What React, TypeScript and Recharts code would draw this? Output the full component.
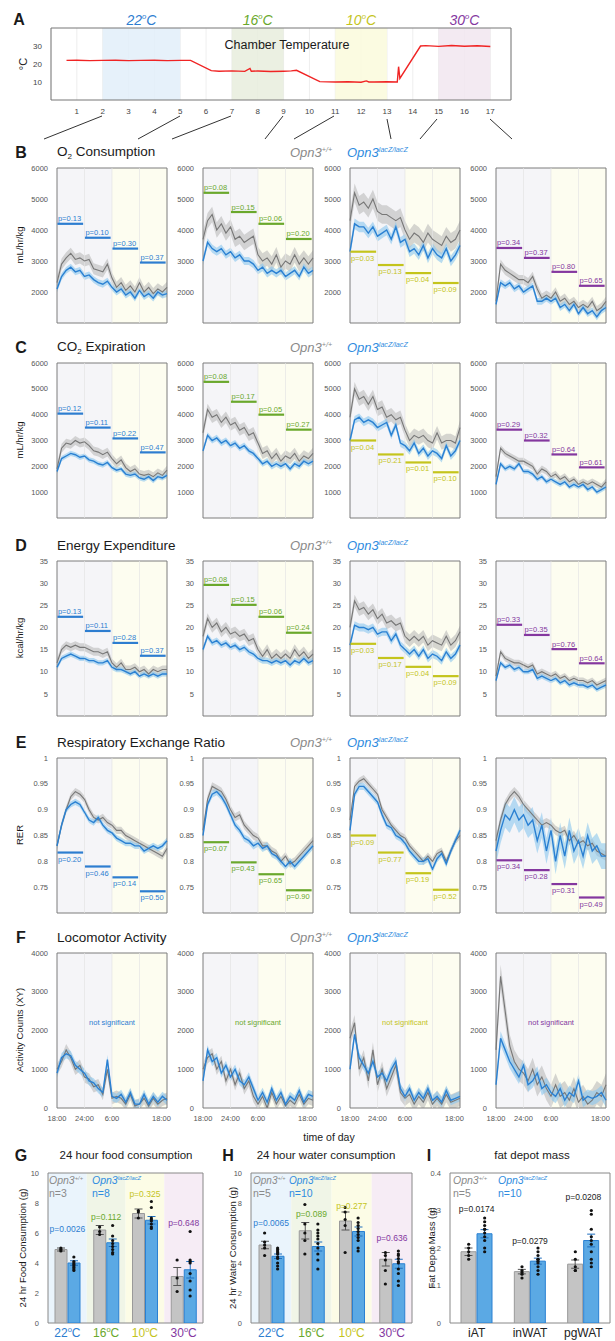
import React from 'react';
import {
  ComposedChart, LineChart, Line, Area, Bar, Scatter, ErrorBar, XAxis, YAxis,
  CartesianGrid, ReferenceArea, ReferenceLine, ReferenceDot,
} from 'recharts';

if (typeof document !== 'undefined') document.body.style.margin = '0';

// ---------- panel A: chamber temperature ----------
const dayTicks = [1, 2, 3, 4, 5, 6, 7, 8, 9, 10, 11, 12, 13, 14, 15, 16, 17];
const tempDays = [0.6, 1, 1.5, 2, 2.5, 3, 3.5, 4, 4.5, 5, 5.4, 6.2, 6.5, 7, 7.5, 7.7, 7.75, 8, 8.5, 9, 9.3, 9.5, 10.4, 11, 11.5, 12, 12.2, 12.3, 12.5, 13, 13.4, 13.45, 13.5, 14.3, 14.5, 15, 15.5, 16, 16.5, 17];
const tempValues = [22, 22.1, 21.9, 22, 22.1, 21.9, 22, 22.1, 21.9, 22, 22, 16.3, 16, 16.2, 15.9, 17.5, 16, 16.1, 15.8, 16, 16.2, 16.5, 10.2, 10, 10.1, 9.9, 10.6, 10, 10, 10.1, 10, 18.5, 12, 30, 30.2, 29.8, 30.3, 29.9, 30.1, 29.7];
const tempBlocks = [[2, 5], [7, 9], [11, 13], [15, 17]];
const tempBlockFill = ['#e2eff9', '#e7eddd', '#fafadc', '#f1e6f0'];
const tempNames = ['22', '16', '10', '30'];
const tempColors = ['#2d7dd0', '#6aa82c', '#c4c41c', '#84379f'];

// ---------- time series (hour after 18:00) ----------
const HOURS = [0, 1, 2, 3, 4, 5, 6, 7, 8, 9, 10, 11, 12, 13, 14, 15, 16, 17, 18, 19, 20, 21, 22, 23, 24];
const QUARTERS = [0, 6, 12, 18, 24];
const TIME_LABELS = ['18:00', '24:00', '6:00', '12:00', '18:00'];

const o2Wt22 = [2300, 2900, 3100, 3250, 3050, 3100, 3000, 3050, 2750, 2700, 2650, 2900, 2450, 2150, 2300, 2050, 2200, 2000, 2300, 2000, 2150, 1950, 2100, 2000, 2150];
const o2Ko22 = [2100, 2500, 2700, 2800, 2650, 2700, 2500, 2550, 2400, 2300, 2250, 2350, 2150, 2000, 2100, 1900, 2000, 1800, 2050, 1850, 1950, 1800, 2000, 1900, 1950];
const o2Wt16 = [3700, 4300, 4500, 4000, 4200, 3900, 4100, 3700, 3800, 3600, 3700, 3800, 3200, 3000, 3100, 2900, 3200, 2800, 3000, 2900, 3200, 2900, 3100, 2900, 3100];
const o2Ko16 = [3000, 3600, 3400, 3300, 3400, 3200, 3300, 3100, 3200, 3000, 3000, 2900, 2700, 2800, 2600, 2700, 2600, 2700, 2500, 2600, 2700, 2500, 2800, 2600, 2700];
const o2Wt10 = [4300, 5200, 4800, 4900, 4700, 5000, 4600, 4500, 4500, 4400, 4300, 4400, 4000, 3700, 3900, 3800, 3600, 3900, 3700, 3600, 3500, 3800, 3600, 3700, 4000];
const o2Ko10 = [3300, 4200, 4100, 4100, 3900, 4100, 3800, 3900, 4000, 3700, 4100, 3600, 3700, 3300, 3400, 3200, 3500, 3100, 3400, 3200, 3100, 3400, 3000, 3200, 3500];
const o2Wt30 = [1700, 2900, 2700, 2600, 2500, 2400, 2400, 2300, 2500, 2100, 1800, 1900, 1800, 2000, 1700, 1800, 1600, 1700, 1500, 1600, 1500, 1700, 1400, 1500, 1700];
const o2Ko30 = [1600, 2300, 2200, 2300, 2100, 2200, 2000, 2100, 2200, 1700, 1700, 1800, 1700, 1800, 1500, 1600, 1400, 1600, 1300, 1500, 1300, 1400, 1200, 1400, 1500];
const o2SemWt = [180, 250, 300, 150];
const o2SemKo = [110, 130, 170, 110];
const o2PText = [['0.13', '0.10', '0.30', '0.37'], ['0.08', '0.15', '0.06', '0.20'], ['0.03', '0.13', '0.04', '0.09'], ['0.34', '0.37', '0.80', '0.65']];
const o2PLevel = [[4200, 3750, 3400, 2950], [5200, 4580, 4200, 3710], [3300, 2870, 2610, 2290], [3420, 3100, 2650, 2200]];

const co2Wt22 = [1900, 2700, 2900, 2850, 3000, 2900, 2950, 2800, 2600, 2550, 2450, 2550, 2300, 2100, 2250, 1950, 1800, 1900, 1700, 1650, 1700, 1600, 1750, 1650, 1850];
const co2Ko22 = [1800, 2300, 2400, 2500, 2450, 2350, 2400, 2250, 2200, 2100, 2050, 2150, 1950, 1850, 1900, 1700, 1650, 1700, 1550, 1500, 1600, 1450, 1600, 1550, 1650];
const co2Wt16 = [3300, 4200, 3900, 4000, 3700, 3900, 3600, 3700, 3400, 3500, 3200, 3300, 2900, 2500, 2600, 2300, 2500, 2200, 2400, 2300, 2500, 2200, 2400, 2300, 2500];
const co2Ko16 = [2600, 3200, 3000, 3100, 2900, 3000, 2800, 2900, 2700, 2800, 2600, 2500, 2300, 2100, 2200, 2000, 2100, 2000, 2100, 1900, 2100, 2000, 2200, 2100, 2200];
const co2Wt10 = [3900, 5000, 4600, 4700, 4400, 4700, 4200, 4300, 3900, 4000, 3800, 3900, 3400, 3000, 3200, 3100, 3200, 3000, 2900, 3300, 2900, 3000, 3000, 2900, 3500];
const co2Ko10 = [3000, 3800, 3900, 3700, 3800, 3700, 3500, 3600, 3700, 3200, 3600, 2900, 2800, 2600, 2900, 2500, 2700, 2400, 2600, 2500, 2300, 2800, 2400, 2600, 3000];
const co2Wt30 = [1600, 2700, 2500, 2400, 2300, 2200, 2200, 2100, 2000, 1700, 1900, 1800, 1600, 1700, 1500, 1600, 1400, 1500, 1300, 1400, 1300, 1400, 1300, 1200, 1400];
const co2Ko30 = [1300, 2100, 1900, 2000, 1900, 2100, 1800, 1800, 1700, 1500, 1600, 1400, 1500, 1400, 1300, 1400, 1200, 1300, 1200, 1300, 1100, 1200, 1000, 1100, 1200];
const co2SemWt = [170, 220, 260, 130];
const co2SemKo = [100, 120, 150, 100];
const co2PText = [['0.12', '0.11', '0.22', '0.47'], ['0.08', '0.17', '0.05', '0.27'], ['0.04', '0.21', '0.01', '0.10'], ['0.29', '0.32', '0.64', '0.61']];
const co2PLevel = [[4040, 3500, 3080, 2540], [5270, 4500, 4000, 3420], [3000, 2460, 2150, 1770], [3420, 3000, 2460, 1960]];

const eeWt22 = [12, 15, 16, 15.5, 16, 15.5, 15.5, 15, 14.5, 14.5, 14, 14.5, 12, 11, 12, 10.5, 10.5, 11, 10, 10.5, 9.5, 10.5, 10, 10.5, 10.5];
const eeKo22 = [11, 13, 13.5, 14, 13.5, 13, 13, 12.5, 12.5, 12, 12, 12.5, 11, 10.5, 10.5, 10, 9.5, 10, 9, 9.5, 9, 9.5, 9, 9.5, 9.5];
const eeWt16 = [18, 22, 20, 21, 19, 20, 18.5, 19, 18, 18.5, 17, 17.5, 15, 13.5, 15, 13, 14, 13, 14, 13, 15, 13.5, 14.5, 13, 14];
const eeKo16 = [15, 18, 16.5, 17, 16, 16.5, 15.5, 16, 15, 15.5, 14.5, 14, 13, 12.5, 12.5, 12, 12.5, 12, 12.5, 11.5, 12.5, 12, 13, 12, 12.5];
const eeWt10 = [20, 26, 24, 24.5, 23, 24, 22, 23, 21, 21.5, 20.5, 21, 18, 17, 18, 17, 18, 16, 17, 16.5, 16, 18, 16, 17, 19];
const eeKo10 = [16, 20.5, 20, 20, 19.5, 20, 18.5, 19, 19, 17, 18.5, 16, 15, 14, 15, 13.5, 15, 13, 14, 13.5, 12.5, 14.5, 13, 14, 16];
const eeWt30 = [9, 14.5, 13, 12.5, 12, 12, 11.5, 11, 11.5, 9.5, 10, 9.5, 9, 9.5, 8.5, 9, 8, 8.5, 8, 8, 7.5, 8, 7, 7.5, 8];
const eeKo30 = [8, 12, 11, 11.5, 10.5, 11, 10, 10, 10.5, 8.5, 9, 8.5, 8, 8.5, 7.5, 8, 7, 7.5, 7, 7, 6.5, 7, 6, 6.5, 7];
const eeSemWt = [0.9, 1.2, 1.4, 0.7];
const eeSemKo = [0.6, 0.7, 0.9, 0.6];
const eePText = [['0.13', '0.11', '0.28', '0.37'], ['0.08', '0.15', '0.06', '0.24'], ['0.03', '0.17', '0.04', '0.09'], ['0.33', '0.35', '0.76', '0.64']];
const eePLevel = [[22.4, 19.2, 16.5, 13.6], [29.6, 25.1, 22.4, 18.8], [16.3, 13.1, 11.1, 9.0], [20.6, 18.3, 15.1, 11.9]];

const rerWt22 = [0.83, 0.87, 0.9, 0.925, 0.935, 0.93, 0.92, 0.9, 0.885, 0.88, 0.885, 0.875, 0.87, 0.86, 0.86, 0.85, 0.845, 0.84, 0.835, 0.83, 0.825, 0.82, 0.815, 0.81, 0.825];
const rerKo22 = [0.83, 0.87, 0.9, 0.91, 0.915, 0.91, 0.895, 0.88, 0.875, 0.885, 0.87, 0.86, 0.855, 0.845, 0.84, 0.835, 0.835, 0.83, 0.83, 0.82, 0.825, 0.83, 0.825, 0.83, 0.84];
const rerWt16 = [0.86, 0.92, 0.945, 0.94, 0.935, 0.92, 0.9, 0.885, 0.89, 0.87, 0.86, 0.85, 0.845, 0.83, 0.83, 0.82, 0.815, 0.8, 0.81, 0.795, 0.8, 0.81, 0.82, 0.83, 0.84];
const rerKo16 = [0.85, 0.91, 0.93, 0.935, 0.925, 0.91, 0.89, 0.87, 0.86, 0.845, 0.84, 0.83, 0.835, 0.825, 0.83, 0.815, 0.81, 0.8, 0.79, 0.8, 0.79, 0.8, 0.81, 0.82, 0.83];
const rerWt10 = [0.88, 0.945, 0.955, 0.96, 0.95, 0.94, 0.93, 0.9, 0.885, 0.87, 0.86, 0.85, 0.845, 0.83, 0.82, 0.81, 0.8, 0.81, 0.8, 0.815, 0.82, 0.8, 0.82, 0.84, 0.85];
const rerKo10 = [0.86, 0.93, 0.945, 0.945, 0.935, 0.925, 0.915, 0.89, 0.87, 0.865, 0.85, 0.845, 0.835, 0.82, 0.81, 0.8, 0.8, 0.805, 0.785, 0.805, 0.815, 0.795, 0.82, 0.84, 0.86];
const rerWt30 = [0.84, 0.88, 0.91, 0.925, 0.935, 0.925, 0.91, 0.9, 0.89, 0.88, 0.87, 0.875, 0.87, 0.86, 0.855, 0.86, 0.84, 0.85, 0.835, 0.84, 0.83, 0.835, 0.82, 0.815, 0.81];
const rerKo30 = [0.82, 0.86, 0.89, 0.88, 0.9, 0.88, 0.89, 0.87, 0.88, 0.84, 0.87, 0.82, 0.86, 0.8, 0.85, 0.81, 0.86, 0.82, 0.84, 0.81, 0.85, 0.82, 0.83, 0.81, 0.81];
const rerSemWt = [0.007, 0.008, 0.007, 0.009];
const rerSemKo = [0.006, 0.007, 0.007, 0.025];
const rerPText = [['0.20', '0.46', '0.14', '0.50'], ['0.07', '0.43', '0.65', '0.90'], ['0.09', '0.77', '0.19', '0.52'], ['0.34', '0.28', '0.31', '0.49']];
const rerPLevel = [[0.817, 0.79, 0.769, 0.742], [0.837, 0.798, 0.775, 0.744], [0.85, 0.817, 0.777, 0.745], [0.802, 0.783, 0.756, 0.73]];

const actWt22 = [1000, 1200, 1500, 1300, 1000, 1100, 800, 750, 550, 600, 350, 1000, 250, 300, 250, 100, 350, 50, 100, 250, 50, 250, 100, 200, 250];
const actKo22 = [900, 1300, 1400, 1350, 1100, 1000, 900, 700, 650, 500, 400, 1250, 300, 250, 350, 150, 400, 100, 100, 350, 100, 300, 150, 300, 200];
const actWt16 = [1000, 1300, 1400, 1000, 1200, 700, 1000, 600, 900, 500, 700, 300, 100, 300, 0, 400, 100, 300, 50, 200, 100, 350, 100, 250, 200];
const actKo16 = [700, 1500, 1200, 1300, 900, 1100, 800, 1000, 700, 600, 800, 500, 200, 400, 150, 500, 200, 400, 100, 300, 200, 450, 150, 350, 300];
const actWt10 = [1800, 2200, 1000, 1300, 700, 1500, 600, 1000, 500, 800, 1100, 400, 250, 350, 100, 300, 150, 400, 100, 250, 100, 350, 150, 200, 250];
const actKo10 = [1000, 1900, 1300, 1100, 900, 1200, 800, 900, 700, 1000, 1200, 500, 300, 500, 200, 400, 250, 500, 200, 300, 150, 450, 200, 250, 300];
const actWt30 = [1500, 3400, 2500, 1600, 1200, 1000, 900, 700, 1000, 600, 800, 500, 300, 600, 300, 400, 200, 500, 150, 300, 100, 200, 400, 300, 600];
const actKo30 = [600, 1800, 1500, 1200, 1000, 800, 1100, 600, 700, 900, 500, 600, 400, 300, 500, 200, 400, 300, 700, 200, 300, 250, 300, 400, 200];
const actSemWt = [150, 150, 200, 300];
const actSemKo = [120, 120, 130, 180];
const actNoteLevel = 2200;

// ---------- G / H / I ----------
const foodWt = [4.9, 6.2, 7.3, 3.1];
const foodWtSem = [0.1, 0.3, 0.3, 0.6];
const foodKo = [4.0, 5.35, 6.85, 3.55];
const foodKoSem = [0.15, 0.25, 0.25, 0.55];
const foodWtDots = [[5.0, 4.9, 4.8], [6.4, 6.1, 5.9], [7.5, 7.4, 7.0], [4.2, 3.0, 2.1]];
const foodKoDots = [[4.4, 4.1, 4.0, 3.9, 3.8, 3.7, 3.6, 3.5], [6.5, 5.8, 5.5, 5.3, 5.1, 4.9, 4.7, 4.6], [8.1, 7.7, 7.0, 6.9, 6.8, 6.6, 6.4, 6.3], [6.1, 4.2, 4.1, 4.0, 3.3, 2.8, 2.2, 1.8]];
const foodPText = ['p=0.0026', 'p=0.112', 'p=0.325', 'p=0.648'];
const foodPLevel = [6.3, 7.1, 8.6, 6.7];

const waterWt = [5.2, 6.15, 6.8, 4.25];
const waterWtSem = [0.25, 0.55, 0.6, 0.45];
const waterKo = [4.45, 5.1, 6.1, 3.95];
const waterKoSem = [0.15, 0.3, 0.3, 0.3];
const waterWtDots = [[6.0, 5.4, 5.2, 5.0, 4.5], [7.9, 6.6, 6.0, 5.5, 4.6], [7.7, 7.4, 6.9, 6.5, 4.7], [4.7, 4.5, 4.2, 3.5, 2.6]];
const waterKoDots = [[5.0, 4.9, 4.8, 4.7, 4.6, 4.4, 4.3, 4.0, 3.8, 3.6], [6.6, 6.2, 6.0, 5.8, 5.6, 5.3, 5.0, 4.6, 4.2, 3.6], [7.0, 6.7, 6.5, 6.3, 6.1, 5.9, 5.7, 5.5, 5.0, 4.8], [4.8, 4.6, 4.5, 4.3, 4.1, 4.0, 3.6, 3.3, 2.8, 2.5]];
const waterPText = ['p=0.0065', 'p=0.089', 'p=0.277', 'p=0.636'];
const waterPLevel = [6.7, 7.3, 7.8, 5.7];

const fatCats = ['iAT', 'inWAT', 'pgWAT'];
const fatWt = [0.19, 0.137, 0.157];
const fatWtSem = [0.01, 0.006, 0.011];
const fatKo = [0.238, 0.165, 0.22];
const fatKoSem = [0.011, 0.008, 0.017];
const fatWtDots = [[0.21, 0.2, 0.19, 0.18, 0.17], [0.15, 0.14, 0.135, 0.13, 0.12], [0.19, 0.17, 0.15, 0.14, 0.14]];
const fatKoDots = [[0.28, 0.27, 0.26, 0.25, 0.25, 0.24, 0.23, 0.22, 0.2, 0.19], [0.2, 0.19, 0.18, 0.17, 0.17, 0.165, 0.16, 0.15, 0.14, 0.13], [0.3, 0.29, 0.25, 0.23, 0.22, 0.21, 0.19, 0.17, 0.16, 0.15]];
const fatPText = ['p=0.0174', 'p=0.0279', 'p=0.0208'];
const fatPLevel = [0.304, 0.218, 0.336];

// ---------- layout ----------
const FONT = "'Liberation Sans', Arial, Helvetica, sans-serif";
const COL_X = [57, 203, 350, 496];
const ROW_Y = [168, 363, 561, 758, 953];
const PLOT_W = 110;
const PLOT_H = 155;
const AXIS_W = 32;
const GREY = '#777777';
const BLUE = '#2a80d2';
const NIGHT = '#f5f5f8';
const DAY = '#fdfdf0';

const ROWS = [
  { letter: 'B', title: <>O<sub style={{ fontSize: '0.6em' }}>2</sub> Consumption</>, ylabel: 'mL/hr/kg', domain: [1000, 6000], ticks: [1000, 2000, 3000, 4000, 5000, 6000], wt: [o2Wt22, o2Wt16, o2Wt10, o2Wt30], ko: [o2Ko22, o2Ko16, o2Ko10, o2Ko30], semWt: o2SemWt, semKo: o2SemKo, pText: o2PText, pLevel: o2PLevel },
  { letter: 'C', title: <>CO<sub style={{ fontSize: '0.6em' }}>2</sub> Expiration</>, ylabel: 'mL/hr/kg', domain: [0, 6000], ticks: [0, 1000, 2000, 3000, 4000, 5000, 6000], wt: [co2Wt22, co2Wt16, co2Wt10, co2Wt30], ko: [co2Ko22, co2Ko16, co2Ko10, co2Ko30], semWt: co2SemWt, semKo: co2SemKo, pText: co2PText, pLevel: co2PLevel },
  { letter: 'D', title: 'Energy Expenditure', ylabel: 'kcal/hr/kg', domain: [0, 35], ticks: [0, 5, 10, 15, 20, 25, 30, 35], wt: [eeWt22, eeWt16, eeWt10, eeWt30], ko: [eeKo22, eeKo16, eeKo10, eeKo30], semWt: eeSemWt, semKo: eeSemKo, pText: eePText, pLevel: eePLevel },
  { letter: 'E', title: 'Respiratory Exchange Ratio', ylabel: 'RER', domain: [0.7, 1], ticks: [0.7, 0.75, 0.8, 0.85, 0.9, 0.95, 1], wt: [rerWt22, rerWt16, rerWt10, rerWt30], ko: [rerKo22, rerKo16, rerKo10, rerKo30], semWt: rerSemWt, semKo: rerSemKo, pText: rerPText, pLevel: rerPLevel, below: true },
  { letter: 'F', title: 'Locomotor Activity', ylabel: 'Activity Counts (XY)', domain: [0, 4000], ticks: [0, 1000, 2000, 3000, 4000], wt: [actWt22, actWt16, actWt10, actWt30], ko: [actKo22, actKo16, actKo10, actKo30], semWt: actSemWt, semKo: actSemKo, note: true },
];

function Txt({ x, y, size = 12, color = '#1a1a1a', bold = false, italic = false, anchor = 'start', rotate = false, children }: any) {
  const tx = anchor === 'middle' ? '-50%' : anchor === 'end' ? '-100%' : '0';
  return (
    <div style={{
      position: 'absolute', left: x, top: y,
      transform: rotate ? 'translate(-50%, -50%) rotate(-90deg)' : `translate(${tx}, -50%)`,
      fontSize: size, color, fontWeight: bold ? 700 : 400, fontStyle: italic ? 'italic' : 'normal',
      whiteSpace: 'nowrap', lineHeight: 1,
    }}>{children}</div>
  );
}

const Sup = ({ children }: any) => (
  <span style={{ fontSize: '0.55em', position: 'relative', top: '-0.75em' }}>{children}</span>
);

const Genotypes = ({ x1, x2, y, size }: any) => (
  <>
    <Txt x={x1} y={y} size={size} italic color="#8a8a8a">Opn3<Sup>+/+</Sup></Txt>
    <Txt x={x2} y={y} size={size} italic color="#2f8ce0">Opn3<Sup>lacZ/lacZ</Sup></Txt>
  </>
);

const pLabel = (text: string, color: string, below: boolean) => (props: any) => {
  const vb = props.viewBox || {};
  return (
    <text x={(vb.x || 0) + 0.5} y={below ? (vb.y || 0) + 9 : (vb.y || 0) - 2.5} fontSize={7.5} fill={color}>{text}</text>
  );
};

function TimeChart({ x, y, wt, ko, semWt, semKo, domain, ticks, color, pText, pLevel, below, showX, note }: any) {
  const data = HOURS.map((h, i) => ({
    h,
    wt: wt[i],
    ko: ko[i],
    wtBand: [wt[i] - semWt, wt[i] + semWt],
    koBand: [ko[i] - semKo, ko[i] + semKo],
  }));
  const xH = showX ? 14 : 0;
  return (
    <div style={{ position: 'absolute', left: x - AXIS_W, top: y - 4 }}>
      <ComposedChart width={AXIS_W + PLOT_W + 3} height={4 + PLOT_H + xH + 2} data={data}
        margin={{ top: 4, right: 3, bottom: 2, left: 0 }}>
        <XAxis type="number" dataKey="h" domain={[0, 24]} ticks={QUARTERS} height={xH}
          tick={showX ? { fontSize: 7.5, fill: '#555' } : false}
          tickFormatter={(v: number) => TIME_LABELS[QUARTERS.indexOf(v)]}
          tickLine={false} axisLine={false} tickMargin={2} />
        <YAxis type="number" domain={domain} ticks={ticks} width={AXIS_W} allowDataOverflow
          tick={{ fontSize: 7.5, fill: '#555' }} tickLine={false} axisLine={false} tickMargin={3} />
        <ReferenceArea x1={0} x2={12} y1={domain[0]} y2={domain[1]} fill={NIGHT} fillOpacity={1} stroke="none" />
        <ReferenceArea x1={12} x2={24} y1={domain[0]} y2={domain[1]} fill={DAY} fillOpacity={1} stroke="none" />
        {[6, 12, 18].map((g) => (
          <ReferenceLine key={'g' + g} x={g} stroke="#e4e4e4" strokeWidth={0.7} />
        ))}
        <Area type="linear" dataKey="wtBand" stroke="none" fill="#b5b5b5" fillOpacity={0.55} isAnimationActive={false} dot={false} activeDot={false} />
        <Area type="linear" dataKey="koBand" stroke="none" fill="#8ac6ee" fillOpacity={0.6} isAnimationActive={false} dot={false} activeDot={false} />
        <Line type="linear" dataKey="wt" stroke={GREY} strokeWidth={1.1} dot={false} isAnimationActive={false} />
        <Line type="linear" dataKey="ko" stroke={BLUE} strokeWidth={1.4} dot={false} isAnimationActive={false} />
        {pLevel && pLevel.map((lv: number, q: number) => (
          <ReferenceLine key={q} segment={[{ x: q * 6 + 0.1, y: lv }, { x: q * 6 + 5.7, y: lv }]}
            stroke={color} strokeWidth={2.2} label={pLabel('p=' + pText[q], color, below)} />
        ))}
        {note && (
          <ReferenceDot x={12} y={actNoteLevel} r={0} stroke="none"
            label={{ value: 'not significant', fill: color, fontSize: 7.5, position: 'center' }} />
        )}
        <ReferenceArea x1={0} x2={24} y1={domain[0]} y2={domain[1]} fill="none" stroke="#7d7d7d" strokeWidth={1} />
      </ComposedChart>
    </div>
  );
}

function BarPanel({ x, y, plotW, axisW, cats, catColors, superO, wt, wtSem, ko, koSem, wtDots, koDots, pText, pLevel, pColors, domain, ticks, bg, barSize }: any) {
  const n = cats.length;
  const data = cats.map((c: string, i: number) => ({ cat: c, wt: wt[i], wtErr: wtSem[i], ko: ko[i], koErr: koSem[i] }));
  const wtPts = wtDots.flatMap((vals: number[], i: number) => vals.map((v) => ({ x: i + 0.5, y: v })));
  const koPts = koDots.flatMap((vals: number[], i: number) => vals.map((v) => ({ x: i + 0.5, y: v })));
  const off = (barSize + 1) / 2;
  const renderTick = (p: any) => {
    const i = cats.indexOf(p.payload.value);
    return (
      <text x={p.x} y={p.y + 6} textAnchor="middle" fontSize={12} fill={catColors[i]}>
        {p.payload.value}
        {superO && <tspan dy={-5} fontSize={7.5}>o</tspan>}
        {superO && <tspan dy={5}>C</tspan>}
      </text>
    );
  };
  return (
    <div style={{ position: 'absolute', left: x - axisW, top: y - 4 }}>
      <ComposedChart width={axisW + plotW + 3} height={4 + 150 + 16} data={data}
        margin={{ top: 4, right: 3, bottom: 0, left: 0 }} barGap={1}>
        <XAxis xAxisId="cat" dataKey="cat" type="category" height={16} interval={0}
          tickLine={false} axisLine={false} tick={renderTick} />
        <XAxis xAxisId="num" dataKey="x" type="number" domain={[0, n]} hide allowDataOverflow />
        <YAxis type="number" domain={domain} ticks={ticks} width={axisW} allowDataOverflow
          tick={{ fontSize: 7.5, fill: '#555' }} tickLine={false} axisLine={false} tickMargin={3} />
        {bg && bg.map((c: string, i: number) => (
          <ReferenceArea key={i} xAxisId="num" x1={i} x2={i + 1} y1={domain[0]} y2={domain[1]} fill={c} fillOpacity={1} stroke="none" />
        ))}
        <Bar xAxisId="cat" dataKey="wt" fill="#c4c4c4" stroke="#9a9a9a" barSize={barSize} isAnimationActive={false}>
          <ErrorBar dataKey="wtErr" width={4} stroke="#555" strokeWidth={1} direction="y" isAnimationActive={false} />
        </Bar>
        <Bar xAxisId="cat" dataKey="ko" fill="#5ba9e4" stroke="#2a80d2" barSize={barSize} isAnimationActive={false}>
          <ErrorBar dataKey="koErr" width={4} stroke="#1f6fbf" strokeWidth={1} direction="y" isAnimationActive={false} />
        </Bar>
        <Scatter xAxisId="num" data={wtPts} dataKey="y" isAnimationActive={false}
          shape={(p: any) => <circle cx={p.cx - off} cy={p.cy} r={1.6} fill="#111" />} />
        <Scatter xAxisId="num" data={koPts} dataKey="y" isAnimationActive={false}
          shape={(p: any) => <circle cx={p.cx + off} cy={p.cy} r={1.6} fill="#111" />} />
        {pText.map((t: string, i: number) => (
          <ReferenceDot key={i} xAxisId="num" x={i + 0.5} y={pLevel[i]} r={0} stroke="none"
            label={{ value: t, fill: pColors[i], fontSize: 8.5, position: 'center' }} />
        ))}
        <ReferenceArea xAxisId="num" x1={0} x2={n} y1={domain[0]} y2={domain[1]} fill="none" stroke="#888" strokeWidth={1} />
      </ComposedChart>
    </div>
  );
}

const connectors = [
  [102, 116, 44, 139], [180, 116, 138, 139], [231, 116, 172, 139], [283, 116, 265, 139],
  [334, 116, 294, 139], [387, 119, 391, 139], [437, 119, 420, 139], [490, 119, 512, 139],
];

export default function App() {
  const tempData = tempDays.map((d, i) => ({ d, c: tempValues[i] }));
  const tempBg = ['#eaf4fc', '#f0f5e7', '#fcfce6', '#f6ecf5'];
  return (
    <div style={{ position: 'relative', width: 615, height: 1341, background: '#fff', overflow: 'hidden', fontFamily: FONT }}>
      <style>{'.recharts-surface{overflow:visible}'}</style>

      {/* panel A */}
      <Txt x={19} y={20} size={16} bold anchor="middle">A</Txt>
      {tempNames.map((t, i) => (
        <Txt key={t} x={51 + ((tempBlocks[i][0] + tempBlocks[i][1]) / 2) * 25.84} y={20} size={14} italic color={tempColors[i]} anchor="middle">
          {t}<Sup>o</Sup>C
        </Txt>
      ))}
      <Txt x={23} y={64} size={11} rotate>°C</Txt>
      <div style={{ position: 'absolute', left: 51 - 22, top: 28 - 4 }}>
        <LineChart width={22 + 460 + 4} height={4 + 72 + 14} data={tempData} margin={{ top: 4, right: 4, bottom: 0, left: 0 }}>
          <CartesianGrid horizontal={false} stroke="#e3e3e3" strokeWidth={0.6} />
          <XAxis type="number" dataKey="d" domain={[0, 17.8]} ticks={dayTicks} height={14}
            tick={{ fontSize: 8, fill: '#444' }} tickLine={false} axisLine={false} tickMargin={2} />
          <YAxis type="number" domain={[0, 40]} ticks={[10, 20, 30]} width={22}
            tick={{ fontSize: 8, fill: '#444' }} tickLine={false} axisLine={false} tickMargin={3} />
          {tempBlocks.map((b, i) => (
            <ReferenceArea key={i} x1={b[0]} x2={b[1]} y1={0} y2={40} fill={tempBlockFill[i]} fillOpacity={0.85} stroke="none" />
          ))}
          <Line type="linear" dataKey="c" stroke="#f02424" strokeWidth={1.4} dot={false} isAnimationActive={false} />
          <ReferenceArea x1={0} x2={17.8} y1={0} y2={40} fill="none" stroke="#777" strokeWidth={1} />
        </LineChart>
      </div>
      <Txt x={287} y={45} size={12.5} anchor="middle">Chamber Temperature</Txt>
      <svg width={615} height={150} style={{ position: 'absolute', left: 0, top: 0, pointerEvents: 'none' }}>
        {connectors.map((c, i) => (
          <line key={i} x1={c[0]} y1={c[1]} x2={c[2]} y2={c[3]} stroke="#333" strokeWidth={1} />
        ))}
      </svg>

      {/* panels B-F */}
      {ROWS.map((row, r) => (
        <React.Fragment key={row.letter}>
          <Txt x={21} y={ROW_Y[r] - 15} size={16} bold anchor="middle">{row.letter}</Txt>
          <Txt x={57} y={ROW_Y[r] - 15} size={13.5}>{row.title}</Txt>
          <Genotypes x1={290} x2={347} y={ROW_Y[r] - 15} size={13} />
          <Txt x={20} y={ROW_Y[r] + 77} size={9.5} rotate>{row.ylabel}</Txt>
          {COL_X.map((cx, c) => (
            <TimeChart key={c} x={cx} y={ROW_Y[r]} wt={row.wt[c]} ko={row.ko[c]}
              semWt={row.semWt[c]} semKo={row.semKo[c]} domain={row.domain} ticks={row.ticks}
              color={tempColors[c]} pText={row.pText ? row.pText[c] : null} pLevel={row.pLevel ? row.pLevel[c] : null}
              below={row.below || c === 2} showX={!!row.note} note={row.note} />
          ))}
        </React.Fragment>
      ))}
      <Txt x={329} y={1137} size={10.5} anchor="middle">time of day</Txt>

      {/* panel G */}
      <Txt x={21} y={1156} size={16} bold anchor="middle">G</Txt>
      <Txt x={126} y={1156} size={11.5} anchor="middle">24 hour food consumption</Txt>
      <Txt x={23} y={1248} size={9.5} rotate>24 hr Food Consumption (g)</Txt>
      <BarPanel x={48} y={1173} plotW={155} axisW={22} cats={tempNames} catColors={tempColors} superO
        wt={foodWt} wtSem={foodWtSem} ko={foodKo} koSem={foodKoSem} wtDots={foodWtDots} koDots={foodKoDots}
        pText={foodPText} pLevel={foodPLevel} pColors={tempColors} domain={[0, 10]} ticks={[0, 2, 4, 6, 8, 10]}
        bg={tempBg} barSize={12} />
      <Genotypes x1={49} x2={92} y={1180} size={10.5} />
      <Txt x={49} y={1193} size={10.5} color="#8a8a8a">n=3</Txt>
      <Txt x={92} y={1193} size={10.5} color="#2f8ce0">n=8</Txt>

      {/* panel H */}
      <Txt x={228} y={1156} size={16} bold anchor="middle">H</Txt>
      <Txt x={326} y={1156} size={11.5} anchor="middle">24 hour water consumption</Txt>
      <Txt x={233} y={1248} size={9.5} rotate>24 hr Water Consumption (g)</Txt>
      <BarPanel x={251} y={1173} plotW={161} axisW={22} cats={tempNames} catColors={tempColors} superO
        wt={waterWt} wtSem={waterWtSem} ko={waterKo} koSem={waterKoSem} wtDots={waterWtDots} koDots={waterKoDots}
        pText={waterPText} pLevel={waterPLevel} pColors={tempColors} domain={[0, 10]} ticks={[0, 2, 4, 6, 8, 10]}
        bg={tempBg} barSize={12} />
      <Genotypes x1={253} x2={289} y={1181} size={10} />
      <Txt x={253} y={1193} size={10.5} color="#8a8a8a">n=5</Txt>
      <Txt x={289} y={1193} size={10.5} color="#2f8ce0">n=10</Txt>

      {/* panel I */}
      <Txt x={429} y={1156} size={16} bold anchor="middle">I</Txt>
      <Txt x={532} y={1156} size={11.5} anchor="middle">fat depot mass</Txt>
      <Txt x={432} y={1248} size={9.5} rotate>Fat Depot Mass (g)</Txt>
      <BarPanel x={450} y={1173} plotW={160} axisW={20} cats={fatCats} catColors={['#222', '#222', '#222']}
        wt={fatWt} wtSem={fatWtSem} ko={fatKo} koSem={fatKoSem} wtDots={fatWtDots} koDots={fatKoDots}
        pText={fatPText} pLevel={fatPLevel} pColors={['#222', '#222', '#222']} domain={[0, 0.4]} ticks={[0, 0.1, 0.2, 0.3, 0.4]}
        bg={null} barSize={15} />
      <Genotypes x1={453} x2={498} y={1180} size={10.5} />
      <Txt x={453} y={1193} size={10.5} color="#8a8a8a">n=5</Txt>
      <Txt x={498} y={1193} size={10.5} color="#2f8ce0">n=10</Txt>
    </div>
  );
}
